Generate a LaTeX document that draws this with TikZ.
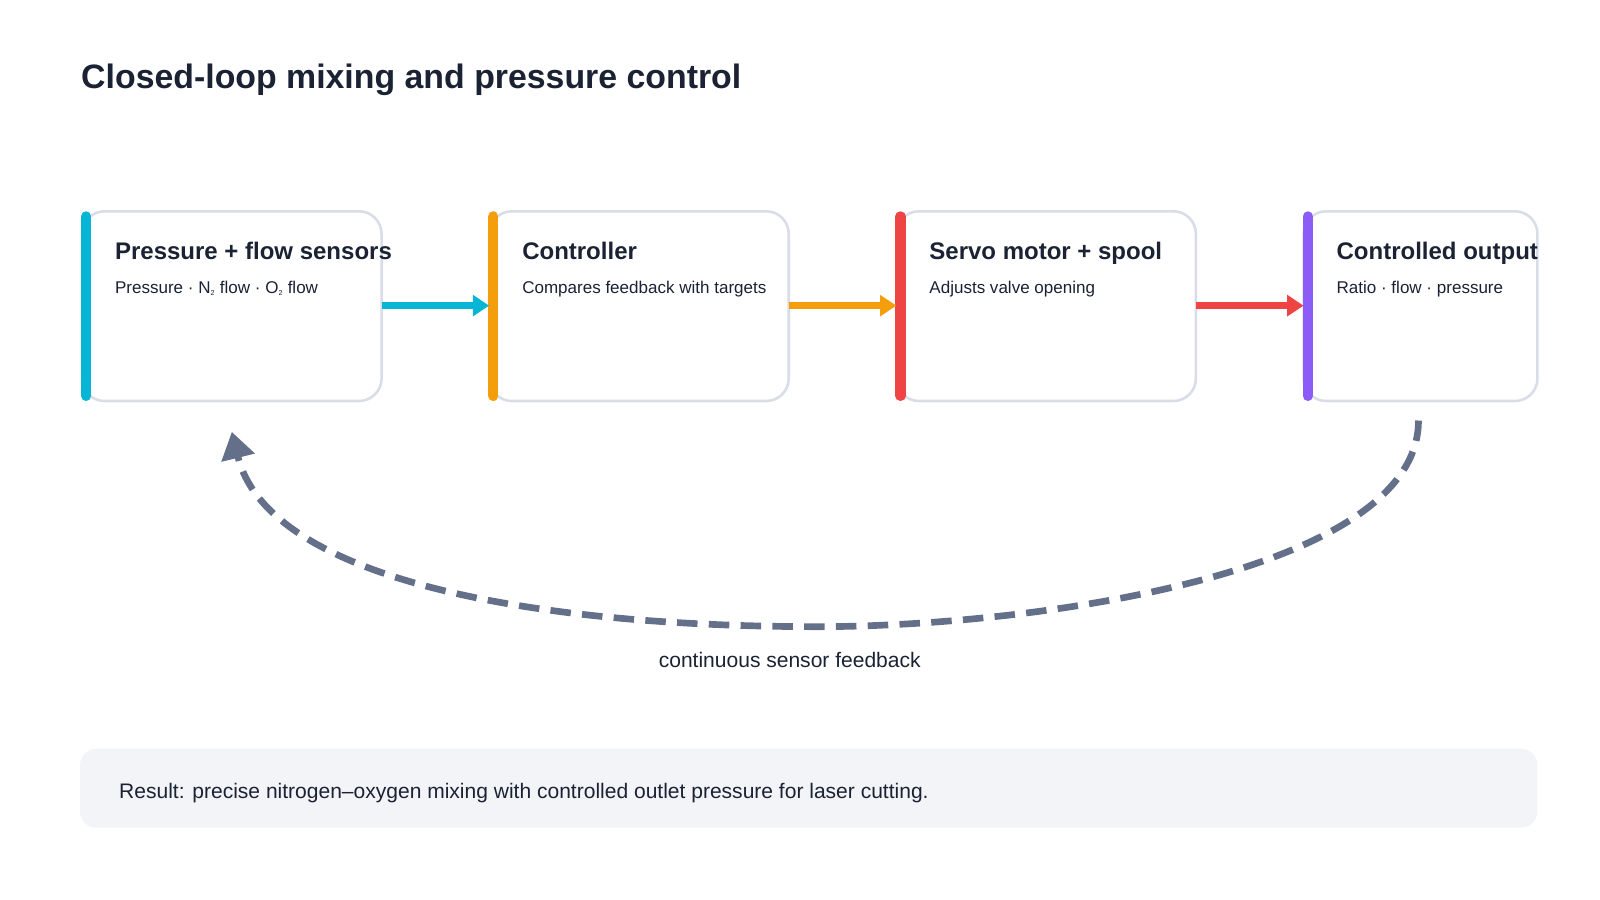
\documentclass[tikz,border=0pt]{standalone}
\usepackage{fontspec}
\setmainfont{Liberation Sans}
\usetikzlibrary{arrows.meta}
\definecolor{ink}{HTML}{1A2233}
\definecolor{bord}{HTML}{D8DDE8}
\definecolor{cyanc}{HTML}{06B6D4}
\definecolor{orgc}{HTML}{F59E0B}
\definecolor{redc}{HTML}{EF4444}
\definecolor{purc}{HTML}{8B5CF6}
\definecolor{grayc}{HTML}{64708A}
\definecolor{resbg}{HTML}{F3F4F8}
\begin{document}
\begin{tikzpicture}[x=1pt,y=-1pt,
  box/.style={draw=bord,line width=2.5pt,rounded corners=22pt,fill=white},
  ttl/.style={anchor=base west,font=\fontsize{23.4}{28}\selectfont\bfseries,text=ink,inner sep=0},
  sub/.style={anchor=base west,font=\fontsize{16.6}{20}\selectfont,text=ink,inner sep=0},
  flow/.style={line width=7pt,-{Triangle[length=16pt,width=20pt]}}]
\useasboundingbox (0,0) rectangle (1560,877.5);
\node[anchor=base west,font=\fontsize{33}{38}\selectfont\bfseries,text=ink,inner sep=0] (title) at (79,86) {Closed-loop mixing and pressure control};
\foreach \x/\w/\c/\n in {80/292/cyanc/a,477/292/orgc/b,874/292/redc/c,1271/228/purc/d}{
  \draw[box] (\x,206) rectangle ++(\w,185);
  \coordinate (\n w) at (\x,298);
  \coordinate (\n e) at (\x+\w,298);
  \draw[\c,line width=10pt,line cap=round] (\x+4,211) -- (\x+4,386);
}
\node[ttl] (t1) at (112,253) {Pressure + flow sensors};
\node[sub] (s1) at (112,286) {Pressure · N\textsubscript{\scriptsize 2} flow · O\textsubscript{\scriptsize 2} flow};
\node[ttl] (t2) at (509,253) {Controller};
\node[sub] (s2) at (509,286) {Compares feedback with targets};
\node[ttl] (t3) at (906,253) {Servo motor + spool};
\node[sub] (s3) at (906,286) {Adjusts valve opening};
\node[ttl] (t4) at (1303,253) {Controlled output};
\node[sub] (s4) at (1303,286) {Ratio · flow · pressure};
\draw[flow,cyanc] (ae) -- (bw);
\draw[flow,orgc] (be) -- (cw);
\draw[flow,redc] (ce) -- (dw);
\coordinate (fs) at (1383,410);
\coordinate (fe) at (226,421);
\draw[grayc,line width=6.5pt,dash pattern=on 20pt off 11pt,-{Triangle[length=26pt,width=32pt]}]
  (fs) .. controls (1383,560) and (1000,612) .. (790,611)
  .. controls (500,610) and (260,560) .. (fe);
\node[font=\fontsize{20.5}{24}\selectfont,text=ink,anchor=base] (fl) at (770,651) {continuous sensor feedback};
\fill[resbg,rounded corners=16pt] (78,730) rectangle (1499,807);
\node[font=\fontsize{20.5}{24}\selectfont,text=ink,anchor=base west,inner sep=0] (res) at (116,779) {Result: precise nitrogen–oxygen mixing with controlled outlet pressure for laser cutting.};
\end{tikzpicture}
\end{document}
